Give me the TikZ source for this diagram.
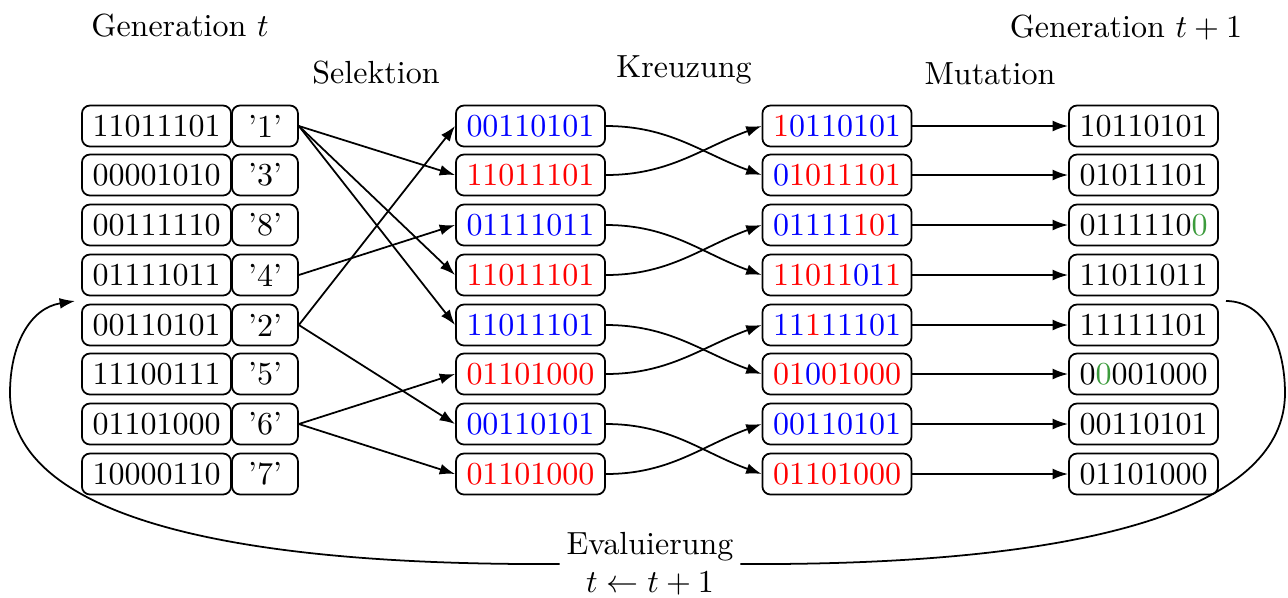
\documentclass[tikz,border=0pt]{standalone}
\usetikzlibrary{arrows.meta}
\definecolor{mutgreen}{RGB}{60,155,60}
\newcommand{\cred}[1]{\textcolor{red}{#1}}
\newcommand{\cblue}[1]{\textcolor{blue}{#1}}
\newcommand{\cgreen}[1]{\textcolor{mutgreen}{#1}}
\begin{document}
\begin{tikzpicture}[x=0.3125pt,y=-0.3125pt,
  bits/.style={draw,rounded corners=2.5pt,minimum width=46.6pt,minimum height=12.8pt,
               inner sep=0pt,line width=0.55pt},
  fit tag/.style={bits,minimum width=20.6pt},
  title/.style={anchor=base,inner sep=0pt},
  arr/.style={-{Latex[length=4.8pt,width=3.4pt]},line width=0.55pt}]
\useasboundingbox (0,0) rectangle (1288,597);

% column headings
\node[title] (gen0)  at (180,36)  {Generation $t$};
\node[title] (sel)   at (376,83)  {Selektion};
\node[title] (kreuz) at (684,77)  {Kreuzung};
\node[title] (mut)   at (990,84)  {Mutation};
\node[title] (gen1)  at (1126,37) {Generation $t+1$};

% population of generation t with fitness ranks
\node[bits] (p1) at (156.5,126) {11011101};
\node[bits] (p2) at (156.5,175) {00001010};
\node[bits] (p3) at (156.5,225) {00111110};
\node[bits] (p4) at (156.5,275) {01111011};
\node[bits] (p5) at (156.5,325) {00110101};
\node[bits] (p6) at (156.5,374) {11100111};
\node[bits] (p7) at (156.5,424) {01101000};
\node[bits] (p8) at (156.5,474) {10000110};

\node[fit tag] (f1) at (265,126) {'1'};
\node[fit tag] (f2) at (265,175) {'3'};
\node[fit tag] (f3) at (265,225) {'8'};
\node[fit tag] (f4) at (265,275) {'4'};
\node[fit tag] (f5) at (265,325) {'2'};
\node[fit tag] (f6) at (265,374) {'5'};
\node[fit tag] (f7) at (265,424) {'6'};
\node[fit tag] (f8) at (265,474) {'7'};

% selected parents
\node[bits] (s1) at (530.5,126) {\cblue{00110101}};
\node[bits] (s2) at (530.5,175) {\cred{11011101}};
\node[bits] (s3) at (530.5,225) {\cblue{01111011}};
\node[bits] (s4) at (530.5,275) {\cred{11011101}};
\node[bits] (s5) at (530.5,325) {\cblue{11011101}};
\node[bits] (s6) at (530.5,374) {\cred{01101000}};
\node[bits] (s7) at (530.5,424) {\cblue{00110101}};
\node[bits] (s8) at (530.5,474) {\cred{01101000}};

% offspring after crossover
\node[bits] (k1) at (837,126) {\cred{1}\cblue{0110101}};
\node[bits] (k2) at (837,175) {\cblue{0}\cred{1011101}};
\node[bits] (k3) at (837,225) {\cblue{01111}\cred{10}\cblue{1}};
\node[bits] (k4) at (837,275) {\cred{11011}\cblue{01}\cred{1}};
\node[bits] (k5) at (837,325) {\cblue{11}\cred{1}\cblue{11101}};
\node[bits] (k6) at (837,374) {\cred{01}\cblue{0}\cred{01000}};
\node[bits] (k7) at (837,424) {\cblue{00110101}};
\node[bits] (k8) at (837,474) {\cred{01101000}};

% generation t+1 after mutation
\node[bits] (m1) at (1143.5,126) {10110101};
\node[bits] (m2) at (1143.5,175) {01011101};
\node[bits] (m3) at (1143.5,225) {0111110\cgreen{0}};
\node[bits] (m4) at (1143.5,275) {11011011};
\node[bits] (m5) at (1143.5,325) {11111101};
\node[bits] (m6) at (1143.5,374) {0\cgreen{0}001000};
\node[bits] (m7) at (1143.5,424) {00110101};
\node[bits] (m8) at (1143.5,474) {01101000};

% selection
\draw[arr] (f1.east) -- (s2.west);
\draw[arr] (f1.east) -- (s4.west);
\draw[arr] (f1.east) -- (s5.west);
\draw[arr] (f4.east) -- (s3.west);
\draw[arr] (f5.east) -- (s1.west);
\draw[arr] (f5.east) -- (s7.west);
\draw[arr] (f7.east) -- (s6.west);
\draw[arr] (f7.east) -- (s8.west);

% crossover
\foreach \a/\b in {1/2,3/4,5/6,7/8}{
  \draw[arr] (s\a.east) to[out=0,in=160] (k\b.west);
  \draw[arr] (s\b.east) to[out=0,in=200] (k\a.west);
}

% mutation
\foreach \i in {1,...,8}{
  \draw[arr] (k\i.east) -- (m\i.west);
}

% evaluation loop back to the population
\coordinate (fbout) at (1226,301);
\coordinate (fbin)  at (75,301);
\node[align=center,inner xsep=2pt,inner ysep=1pt] (eval) at (650,564) {Evaluierung\\$t\leftarrow t+1$};
\draw[line width=0.55pt] (fbout) .. controls (1265,301) and (1285,345) .. (1285,393)
  .. controls (1285,505) and (1100,566) .. (eval.east);
\draw[arr] (eval.west) .. controls (190,566) and (10,505) .. (10,393)
  .. controls (10,345) and (30,308) .. (fbin);
\end{tikzpicture}
\end{document}
